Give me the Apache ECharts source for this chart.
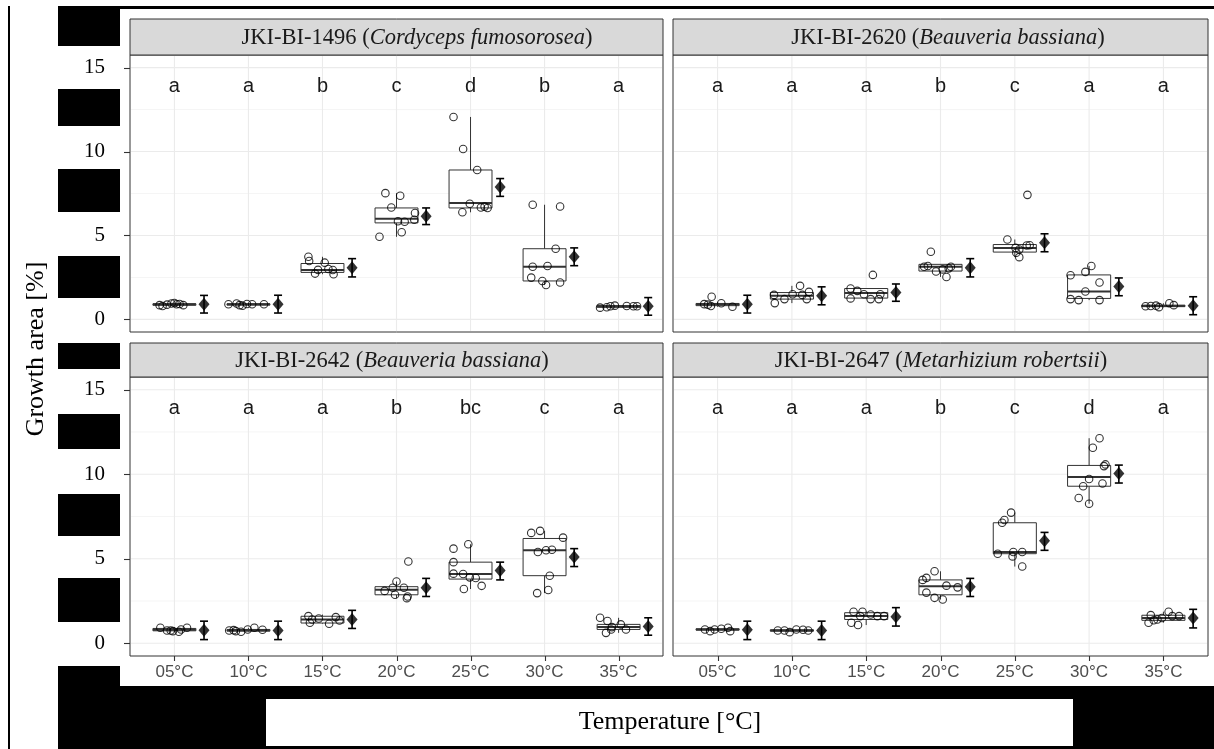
<!DOCTYPE html>
<html><head><meta charset="utf-8">
<script src="https://cdn.jsdelivr.net/npm/echarts@6/dist/echarts.min.js"></script>
<style>html,body{margin:0;padding:0;background:#fff}#c{width:1214px;height:749px}</style>
</head><body><div id="c"></div>
<script>
// ---------- data ----------
const categories = ['05°C', '10°C', '15°C', '20°C', '25°C', '30°C', '35°C'];
const yTicks = [0, 5, 10, 15];
const yMinor = [2.5, 7.5, 12.5];
const letterY = 13.9;
const meanOffset = 0.4;

const strainIds = ['JKI-BI-1496', 'JKI-BI-2620', 'JKI-BI-2642', 'JKI-BI-2647'];
const species = ['Cordyceps fumosorosea', 'Beauveria bassiana', 'Beauveria bassiana', 'Metarhizium robertsii'];

const letters1496 = ['a', 'a', 'b', 'c', 'd', 'b', 'a'];
const letters2620 = ['a', 'a', 'a', 'b', 'c', 'a', 'a'];
const letters2642 = ['a', 'a', 'a', 'b', 'bc', 'c', 'a'];
const letters2647 = ['a', 'a', 'a', 'b', 'c', 'd', 'a'];

// box stats: [min, Q1, median, Q3, max]
const box1496 = [[0.78,0.84,0.9,0.93,1.0],[0.8,0.85,0.9,0.93,0.97],[2.69,2.8,2.94,3.33,3.73],[4.92,5.75,6.0,6.64,7.52],[6.38,6.64,6.93,8.9,12.06],[2.05,2.29,3.14,4.21,6.83],[0.68,0.72,0.78,0.82,0.85]];
const box2620 = [[0.75,0.82,0.9,0.95,1.05],[0.97,1.21,1.41,1.6,2.0],[1.21,1.27,1.58,1.84,1.84],[2.53,2.88,3.14,3.28,3.3],[3.71,4.01,4.26,4.46,4.76],[1.15,1.25,1.66,2.65,3.18],[0.72,0.76,0.8,0.85,0.96]];
const box2642 = [[0.68,0.74,0.8,0.88,0.95],[0.68,0.72,0.78,0.82,0.92],[1.16,1.2,1.41,1.6,1.7],[2.67,2.87,3.17,3.35,3.66],[3.21,3.8,4.1,4.8,5.86],[2.97,4.0,5.5,6.2,6.65],[0.62,0.82,0.96,1.12,1.51]];
const box2647 = [[0.72,0.78,0.82,0.86,0.92],[0.66,0.72,0.76,0.8,0.82],[1.08,1.41,1.61,1.81,1.87],[2.59,2.87,3.37,3.75,4.26],[4.54,5.3,5.4,7.13,7.73],[8.25,9.29,9.84,10.52,12.13],[1.22,1.36,1.5,1.66,1.87]];

// means and error bar limits [low, high]
const mean1496 = [0.9, 0.91, 3.08, 6.14, 7.88, 3.73, 0.78];
const err1496 = [[0.38,1.43],[0.38,1.44],[2.53,3.62],[5.65,6.64],[7.33,8.39],[3.2,4.26],[0.25,1.3]];
const mean2620 = [0.91, 1.41, 1.6, 3.08, 4.56, 1.96, 0.82];
const err2620 = [[0.38,1.44],[0.87,1.94],[1.08,2.11],[2.53,3.62],[4.03,5.1],[1.41,2.47],[0.28,1.35]];
const mean2642 = [0.78, 0.76, 1.41, 3.29, 4.3, 5.1, 1.0];
const err2642 = [[0.22,1.31],[0.22,1.31],[0.88,1.95],[2.77,3.84],[3.75,4.8],[4.54,5.6],[0.48,1.51]];
const mean2647 = [0.8, 0.76, 1.57, 3.35, 6.06, 10.04, 1.5];
const err2647 = [[0.22,1.31],[0.22,1.31],[1.02,2.11],[2.77,3.84],[5.5,6.56],[9.48,10.54],[0.91,2.01]];

// raw observations: [category index, jitter, value]
const pts1496 = [
 [0,-0.2,0.85],[0,-0.16,0.8],[0,-0.1,0.88],[0,-0.04,0.95],[0,0.0,0.98],[0,0.03,0.9],[0,0.07,0.92],[0,0.12,0.85],
 [1,-0.27,0.9],[1,-0.16,0.95],[1,-0.12,0.85],[1,-0.08,0.82],[1,-0.02,0.92],[1,0.05,0.9],[1,0.21,0.9],
 [2,-0.19,3.73],[2,-0.18,3.48],[2,0.03,3.38],[2,-0.1,2.73],[2,0.15,2.69],[2,0.14,2.94],[2,-0.06,2.95],[2,0.08,3.0],
 [3,-0.15,7.52],[3,0.05,7.37],[3,-0.07,6.67],[3,0.25,6.34],[3,0.24,5.94],[3,0.02,5.85],[3,0.11,5.82],[3,0.07,5.19],[3,-0.23,4.92],
 [4,-0.23,12.06],[4,-0.1,10.15],[4,0.09,8.9],[4,-0.01,6.89],[4,-0.11,6.38],[4,0.14,6.67],[4,0.23,6.64],[4,0.19,6.72],
 [5,-0.16,6.83],[5,0.21,6.73],[5,0.15,4.21],[5,-0.16,3.14],[5,0.04,3.18],[5,-0.18,2.49],[5,-0.03,2.29],[5,0.02,2.05],[5,0.21,2.2],
 [6,-0.25,0.7],[6,-0.16,0.72],[6,-0.11,0.78],[6,-0.05,0.82],[6,0.11,0.8],[6,0.2,0.78],[6,0.25,0.78]
];
const pts2620 = [
 [0,-0.18,0.91],[0,-0.08,1.35],[0,-0.09,0.8],[0,0.05,0.96],[0,0.2,0.75],[0,-0.13,0.88],
 [1,-0.24,1.46],[1,-0.23,0.97],[1,-0.1,1.21],[1,0.01,1.5],[1,0.11,2.0],[1,0.14,1.46],[1,0.2,1.21],[1,0.23,1.64],
 [2,0.09,2.65],[2,-0.21,1.84],[2,-0.21,1.25],[2,-0.12,1.7],[2,0.06,1.21],[2,0.17,1.21],[2,0.19,1.5],[2,-0.03,1.5],
 [3,-0.13,4.03],[3,-0.22,3.14],[3,-0.17,3.18],[3,-0.06,2.85],[3,0.08,2.53],[3,0.03,2.98],[3,0.14,3.14],[3,0.11,3.04],
 [4,0.17,7.42],[4,-0.1,4.76],[4,0.2,4.42],[4,0.01,4.26],[4,0.02,3.97],[4,0.06,3.71],[4,0.06,4.16],[4,0.16,4.4],
 [5,-0.25,2.63],[5,-0.05,2.83],[5,0.03,3.18],[5,0.14,2.2],[5,-0.05,1.66],[5,-0.25,1.21],[5,-0.14,1.15],[5,0.14,1.15],
 [6,-0.24,0.78],[6,-0.1,0.82],[6,-0.06,0.73],[6,0.08,0.96],[6,0.14,0.85],[6,-0.17,0.8]
];
const pts2642 = [
 [0,-0.19,0.92],[0,-0.1,0.76],[0,-0.02,0.72],[0,0.06,0.68],[0,0.09,0.82],[0,0.17,0.92],[0,-0.05,0.76],
 [1,-0.26,0.76],[1,-0.17,0.72],[1,-0.1,0.68],[1,-0.01,0.82],[1,0.08,0.92],[1,0.19,0.8],[1,-0.2,0.78],
 [2,-0.19,1.61],[2,-0.17,1.22],[2,0.09,1.16],[2,0.18,1.55],[2,0.23,1.35],[2,-0.14,1.41],[2,-0.05,1.47],
 [3,0.16,4.84],[3,0.0,3.66],[3,-0.05,3.29],[3,0.1,3.29],[3,-0.02,2.87],[3,0.14,2.67],[3,0.15,2.77],[3,-0.16,3.1],
 [4,-0.03,5.86],[4,-0.23,5.6],[4,-0.23,4.8],[4,-0.23,4.12],[4,-0.1,4.1],[4,-0.01,3.9],[4,0.07,3.86],[4,-0.09,3.21],[4,0.15,3.4],
 [5,-0.18,6.53],[5,-0.06,6.65],[5,0.25,6.25],[5,-0.09,5.4],[5,0.02,5.5],[5,0.1,5.53],[5,0.07,4.0],[5,0.05,3.15],[5,-0.1,2.97],
 [6,-0.25,1.51],[6,-0.15,1.32],[6,-0.17,0.62],[6,-0.09,0.96],[6,0.03,1.12],[6,0.1,0.82],[6,-0.1,0.82]
];
const pts2647 = [
 [0,-0.17,0.82],[0,-0.1,0.72],[0,-0.04,0.82],[0,0.05,0.86],[0,0.14,0.92],[0,0.17,0.72],
 [1,-0.19,0.76],[1,-0.03,0.66],[1,0.06,0.82],[1,0.22,0.76],[1,-0.1,0.76],[1,0.15,0.8],
 [2,-0.17,1.87],[2,-0.05,1.87],[2,0.06,1.7],[2,0.15,1.61],[2,0.24,1.61],[2,-0.2,1.22],[2,-0.11,1.08],[2,-0.08,1.61],
 [3,-0.08,4.26],[3,-0.19,3.87],[3,-0.24,3.75],[3,-0.19,3.0],[3,-0.08,2.69],[3,0.03,2.59],[3,0.08,3.41],[3,0.23,3.31],
 [4,-0.05,7.73],[4,-0.14,7.29],[4,-0.17,7.13],[4,-0.23,5.3],[4,-0.02,5.4],[4,0.1,5.4],[4,-0.03,5.14],[4,0.1,4.54],
 [5,0.14,12.13],[5,0.05,11.57],[5,0.22,10.58],[5,0.2,10.48],[5,0.0,9.72],[5,-0.08,9.29],[5,0.18,9.45],[5,-0.14,8.59],[5,0.0,8.25],
 [6,-0.2,1.22],[6,-0.17,1.67],[6,-0.08,1.41],[6,-0.02,1.5],[6,0.07,1.87],[6,0.12,1.61],[6,0.21,1.61],[6,-0.13,1.36]
];

// ---------- layout ----------
const panels = [
  {box: box1496, mean: mean1496, err: err1496, pts: pts1496, letters: letters1496, left: 130, top: 55, width: 533, height: 277, stripTop: 19, titleX: 417, bottom: false, leftCol: true},
  {box: box2620, mean: mean2620, err: err2620, pts: pts2620, letters: letters2620, left: 673, top: 55, width: 535, height: 277, stripTop: 19, titleX: 948, bottom: false, leftCol: false},
  {box: box2642, mean: mean2642, err: err2642, pts: pts2642, letters: letters2642, left: 130, top: 377, width: 533, height: 279, stripTop: 343, titleX: 392, bottom: true, leftCol: true},
  {box: box2647, mean: mean2647, err: err2647, pts: pts2647, letters: letters2647, left: 673, top: 377, width: 535, height: 279, stripTop: 343, titleX: 941, bottom: true, leftCol: false}
];

const SERIF = '"Liberation Serif", "Times New Roman", serif';
const SANS = '"Liberation Sans", Arial, sans-serif';
const catIdx = categories.map((c, i) => i);

function gridRender(params, api) {
  const cs = params.coordSys;
  const kind = api.value(0), v = api.value(1);
  if (kind === 2) {
    const x = api.coord([v, 0])[0];
    return {type: 'line', shape: {x1: x, y1: cs.y + 1, x2: x, y2: cs.y + cs.height - 1}, style: {stroke: '#ebebeb', lineWidth: 1.1}};
  }
  const y = api.coord([0, v])[1];
  return {type: 'line', shape: {x1: cs.x + 1, y1: y, x2: cs.x + cs.width - 1, y2: y},
    style: {stroke: kind === 0 ? '#ebebeb' : '#f3f3f3', lineWidth: kind === 0 ? 1.1 : 0.8}};
}
// outside tick marks: kind 0 = y tick (left), kind 1 = x tick (bottom)
function tickRender(params, api) {
  const cs = params.coordSys;
  const kind = api.value(0), v = api.value(1);
  const st = {stroke: '#333', lineWidth: 1.1};
  if (kind === 0) {
    const y = Math.round(api.coord([0, v])[1]) + 0.5;
    return {type: 'line', shape: {x1: cs.x - 6, y1: y, x2: cs.x, y2: y}, style: st};
  }
  const x = Math.round(api.coord([v, 0])[0]) + 0.5;
  return {type: 'line', shape: {x1: x, y1: cs.y + cs.height, x2: x, y2: cs.y + cs.height + 5}, style: st};
}
function boxRender(params, api) {
  const x = api.value(0);
  const mn = api.value(1), q1 = api.value(2), md = api.value(3), q3 = api.value(4), mx = api.value(5);
  const hw = 0.29;
  const pTL = api.coord([x - hw, q3]), pBR = api.coord([x + hw, q1]);
  const cx = api.coord([x, md])[0];
  const yMn = api.coord([x, mn])[1], yMx = api.coord([x, mx])[1], yMd = api.coord([x, md])[1];
  const st = {stroke: '#333', lineWidth: 1};
  return {type: 'group', children: [
    {type: 'line', shape: {x1: cx, y1: pTL[1], x2: cx, y2: yMx}, style: st},
    {type: 'line', shape: {x1: cx, y1: pBR[1], x2: cx, y2: yMn}, style: st},
    {type: 'rect', shape: {x: pTL[0], y: pTL[1], width: pBR[0] - pTL[0], height: pBR[1] - pTL[1]}, style: {fill: '#fff', stroke: '#333', lineWidth: 1}},
    {type: 'line', shape: {x1: pTL[0], y1: yMd, x2: pBR[0], y2: yMd}, style: {stroke: '#333', lineWidth: 2}}
  ]};
}
function errRender(params, api) {
  const x = api.value(0);
  const lo = api.coord([x, api.value(1)]), hi = api.coord([x, api.value(2)]);
  const cw = 4;
  const st = {stroke: '#000', lineWidth: 1.6};
  return {type: 'group', children: [
    {type: 'line', shape: {x1: lo[0], y1: lo[1], x2: hi[0], y2: hi[1]}, style: st},
    {type: 'line', shape: {x1: lo[0] - cw, y1: lo[1], x2: lo[0] + cw, y2: lo[1]}, style: st},
    {type: 'line', shape: {x1: hi[0] - cw, y1: hi[1], x2: hi[0] + cw, y2: hi[1]}, style: st}
  ]};
}

const grids = [], xAxes = [], yAxes = [], series = [], graphics = [];
panels.forEach((p, g) => {
  grids.push({left: p.left, top: p.top, width: p.width, height: p.height, show: true,
    borderColor: '#333', borderWidth: 1, backgroundColor: '#fff', containLabel: false, outerBoundsMode: 'none'});
  xAxes.push({gridIndex: g, type: 'value', min: -0.6, max: 6.6,
    splitLine: {show: false}, axisLine: {show: false}, axisTick: {show: false},
    axisLabel: {show: p.bottom, customValues: catIdx, formatter: v => categories[Math.round(v)] || '',
      color: '#4d4d4d', fontSize: 17, fontFamily: SANS, margin: 8}});
  yAxes.push({gridIndex: g, type: 'value', min: -0.75, max: 15.75,
    splitLine: {show: false}, axisLine: {show: false}, axisTick: {show: false},
    axisLabel: {show: p.leftCol, customValues: yTicks, color: '#000', fontSize: 21, fontFamily: SERIF, margin: 25}});
  const gridData = yTicks.map(v => [0, v]).concat(yMinor.map(v => [1, v])).concat(catIdx.map(i => [2, i]));
  series.push({type: 'custom', xAxisIndex: g, yAxisIndex: g, silent: true, renderItem: gridRender, data: gridData, z: 1});
  const tickData = (p.leftCol ? yTicks.map(v => [0, v]) : []).concat(p.bottom ? catIdx.map(i => [1, i]) : []);
  if (tickData.length) series.push({type: 'custom', xAxisIndex: g, yAxisIndex: g, silent: true, clip: false,
    renderItem: tickRender, data: tickData, z: 1});
  series.push({type: 'custom', xAxisIndex: g, yAxisIndex: g, silent: true, renderItem: boxRender,
    data: p.box.map((b, i) => [i].concat(b)), z: 2});
  series.push({type: 'scatter', xAxisIndex: g, yAxisIndex: g, silent: true, symbol: 'circle', symbolSize: 7.5,
    itemStyle: {color: 'rgba(0,0,0,0)', borderColor: '#000', borderWidth: 1.1},
    data: p.pts.map(q => [q[0] + q[1], q[2]]), z: 3});
  series.push({type: 'custom', xAxisIndex: g, yAxisIndex: g, silent: true, renderItem: errRender,
    data: p.err.map((e, i) => [i + meanOffset, e[0], e[1]]), z: 4});
  series.push({type: 'scatter', xAxisIndex: g, yAxisIndex: g, silent: true, symbol: 'diamond', symbolSize: [11, 13],
    itemStyle: {color: '#000'}, data: p.mean.map((m, i) => [i + meanOffset, m]), z: 5});
  series.push({type: 'custom', xAxisIndex: g, yAxisIndex: g, silent: true,
    renderItem: (params, api) => {
      const c = api.coord([api.value(0), api.value(1)]);
      return {type: 'text', x: c[0], y: c[1], style: {text: p.letters[params.dataIndex], fill: '#1a1a1a',
        font: '20px ' + SANS, align: 'center', verticalAlign: 'middle'}};
    },
    data: p.letters.map((l, i) => [i, letterY]), z: 6});
  // strip
  graphics.push({type: 'rect', shape: {x: p.left, y: p.stripTop, width: p.width, height: p.top - p.stripTop},
    style: {fill: '#d9d9d9', stroke: '#333', lineWidth: 1}, z: 10});
  graphics.push({type: 'text', x: p.titleX, y: (p.stripTop + p.top) / 2 + 1, z: 11,
    style: {text: '{n|' + strainIds[g] + ' (}{i|' + species[g] + '}{n|)}',
      rich: {n: {fontFamily: SERIF, fontSize: 22.5, fill: '#1a1a1a'}, i: {fontFamily: SERIF, fontSize: 22.5, fontStyle: 'italic', fill: '#1a1a1a'}},
      align: 'center', verticalAlign: 'middle'}});
});

// axis titles
graphics.push({type: 'text', x: 36, y: 349, rotation: Math.PI / 2, z: 11,
  style: {text: 'Growth area [%]', font: '26px ' + SERIF, fill: '#000', align: 'center', verticalAlign: 'middle'}});

// black masking blocks
const blk = (x, y, w, h) => graphics.push({type: 'rect', shape: {x: x, y: y, width: w, height: h}, style: {fill: '#000'}, z: 20});
blk(8, 6, 2, 743);
blk(58, 6, 1156, 3);
[[6, 46], [89, 126], [169, 212], [256, 298], [343, 369], [414, 449], [494, 536], [578, 622], [666, 687]].forEach(b => blk(58, b[0], 62, b[1] - b[0]));
blk(58, 686, 1156, 63);
graphics.push({type: 'rect', shape: {x: 266, y: 699, width: 807, height: 47}, style: {fill: '#fff'}, z: 21});
graphics.push({type: 'text', x: 670, y: 722, z: 22,
  style: {text: 'Temperature [°C]', font: '26px ' + SERIF, fill: '#000', align: 'center', verticalAlign: 'middle'}});

const chart = echarts.init(document.getElementById('c'), null, {renderer: 'canvas'});
chart.setOption({
  animation: false,
  backgroundColor: '#fff',
  grid: grids, xAxis: xAxes, yAxis: yAxes, series: series, graphic: graphics
});
</script></body></html>
